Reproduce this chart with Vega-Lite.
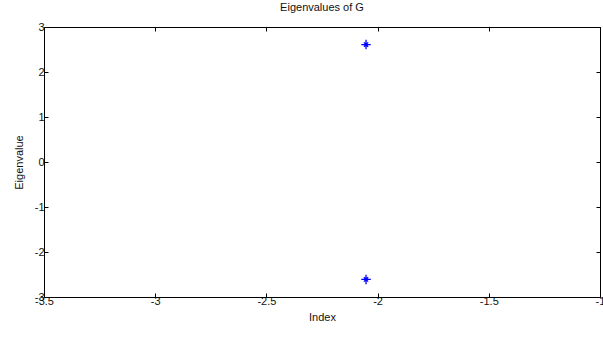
{
  "$schema": "https://vega.github.io/schema/vega-lite/v6.json",
  "autosize": "none",
  "width": 556,
  "height": 270,
  "padding": {"left": 44, "top": 27, "right": 3, "bottom": 52},
  "background": "white",
  "title": {"text": "Eigenvalues of G", "fontSize": 11, "fontWeight": "normal", "font": "Liberation Sans", "color": "#111", "offset": 8, "anchor": "middle"},
  "config": {
    "view": {"stroke": null},
    "axis": {"grid": false, "domainColor": "#000", "tickColor": "#000", "labelFont": "Liberation Sans", "titleFont": "Liberation Sans", "labelFontSize": 11, "titleFontSize": 11, "titleFontWeight": "normal", "labelColor": "#111", "titleColor": "#111", "tickSize": -4, "domainWidth": 1, "labelFlush": false, "labelOverlap": false, "labelBound": false, "labelExpr": "'' + datum.value"}
  },
  "data": {"values": [
    {"index": -2.052, "eigenvalue": 2.61},
    {"index": -2.052, "eigenvalue": -2.61}
  ]},
  "layer": [
    {
      "mark": {"type": "point", "shape": "M -1 0 L 1 0 M 0 -1 L 0 1 M -0.45 -0.45 L 0.45 0.45 M -0.45 0.45 L 0.45 -0.45", "filled": false, "color": "#0000ff", "strokeWidth": 1.3, "size": 90, "opacity": 1},
      "encoding": {
        "x": {"field": "index", "type": "quantitative", "scale": {"domain": [-3.5, -1], "nice": false, "zero": false}, "axis": {"orient": "bottom", "title": "Index", "values": [-3.5, -3, -2.5, -2, -1.5, -1], "labelPadding": 2, "titlePadding": 5}},
        "y": {"field": "eigenvalue", "type": "quantitative", "scale": {"domain": [-3, 3], "nice": false, "zero": false}, "axis": {"orient": "left", "title": "Eigenvalue", "values": [-3, -2, -1, 0, 1, 2, 3], "labelPadding": 4, "titlePadding": 10}}
      }
    },
    {
      "mark": {"type": "point", "opacity": 0},
      "encoding": {
        "x": {"field": "index", "type": "quantitative", "axis": {"orient": "top", "title": null, "labels": false, "values": [-3.5, -3, -2.5, -2, -1.5, -1]}},
        "y": {"field": "eigenvalue", "type": "quantitative", "axis": {"orient": "right", "title": null, "labels": false, "values": [-3, -2, -1, 0, 1, 2, 3]}}
      }
    }
  ]
}
